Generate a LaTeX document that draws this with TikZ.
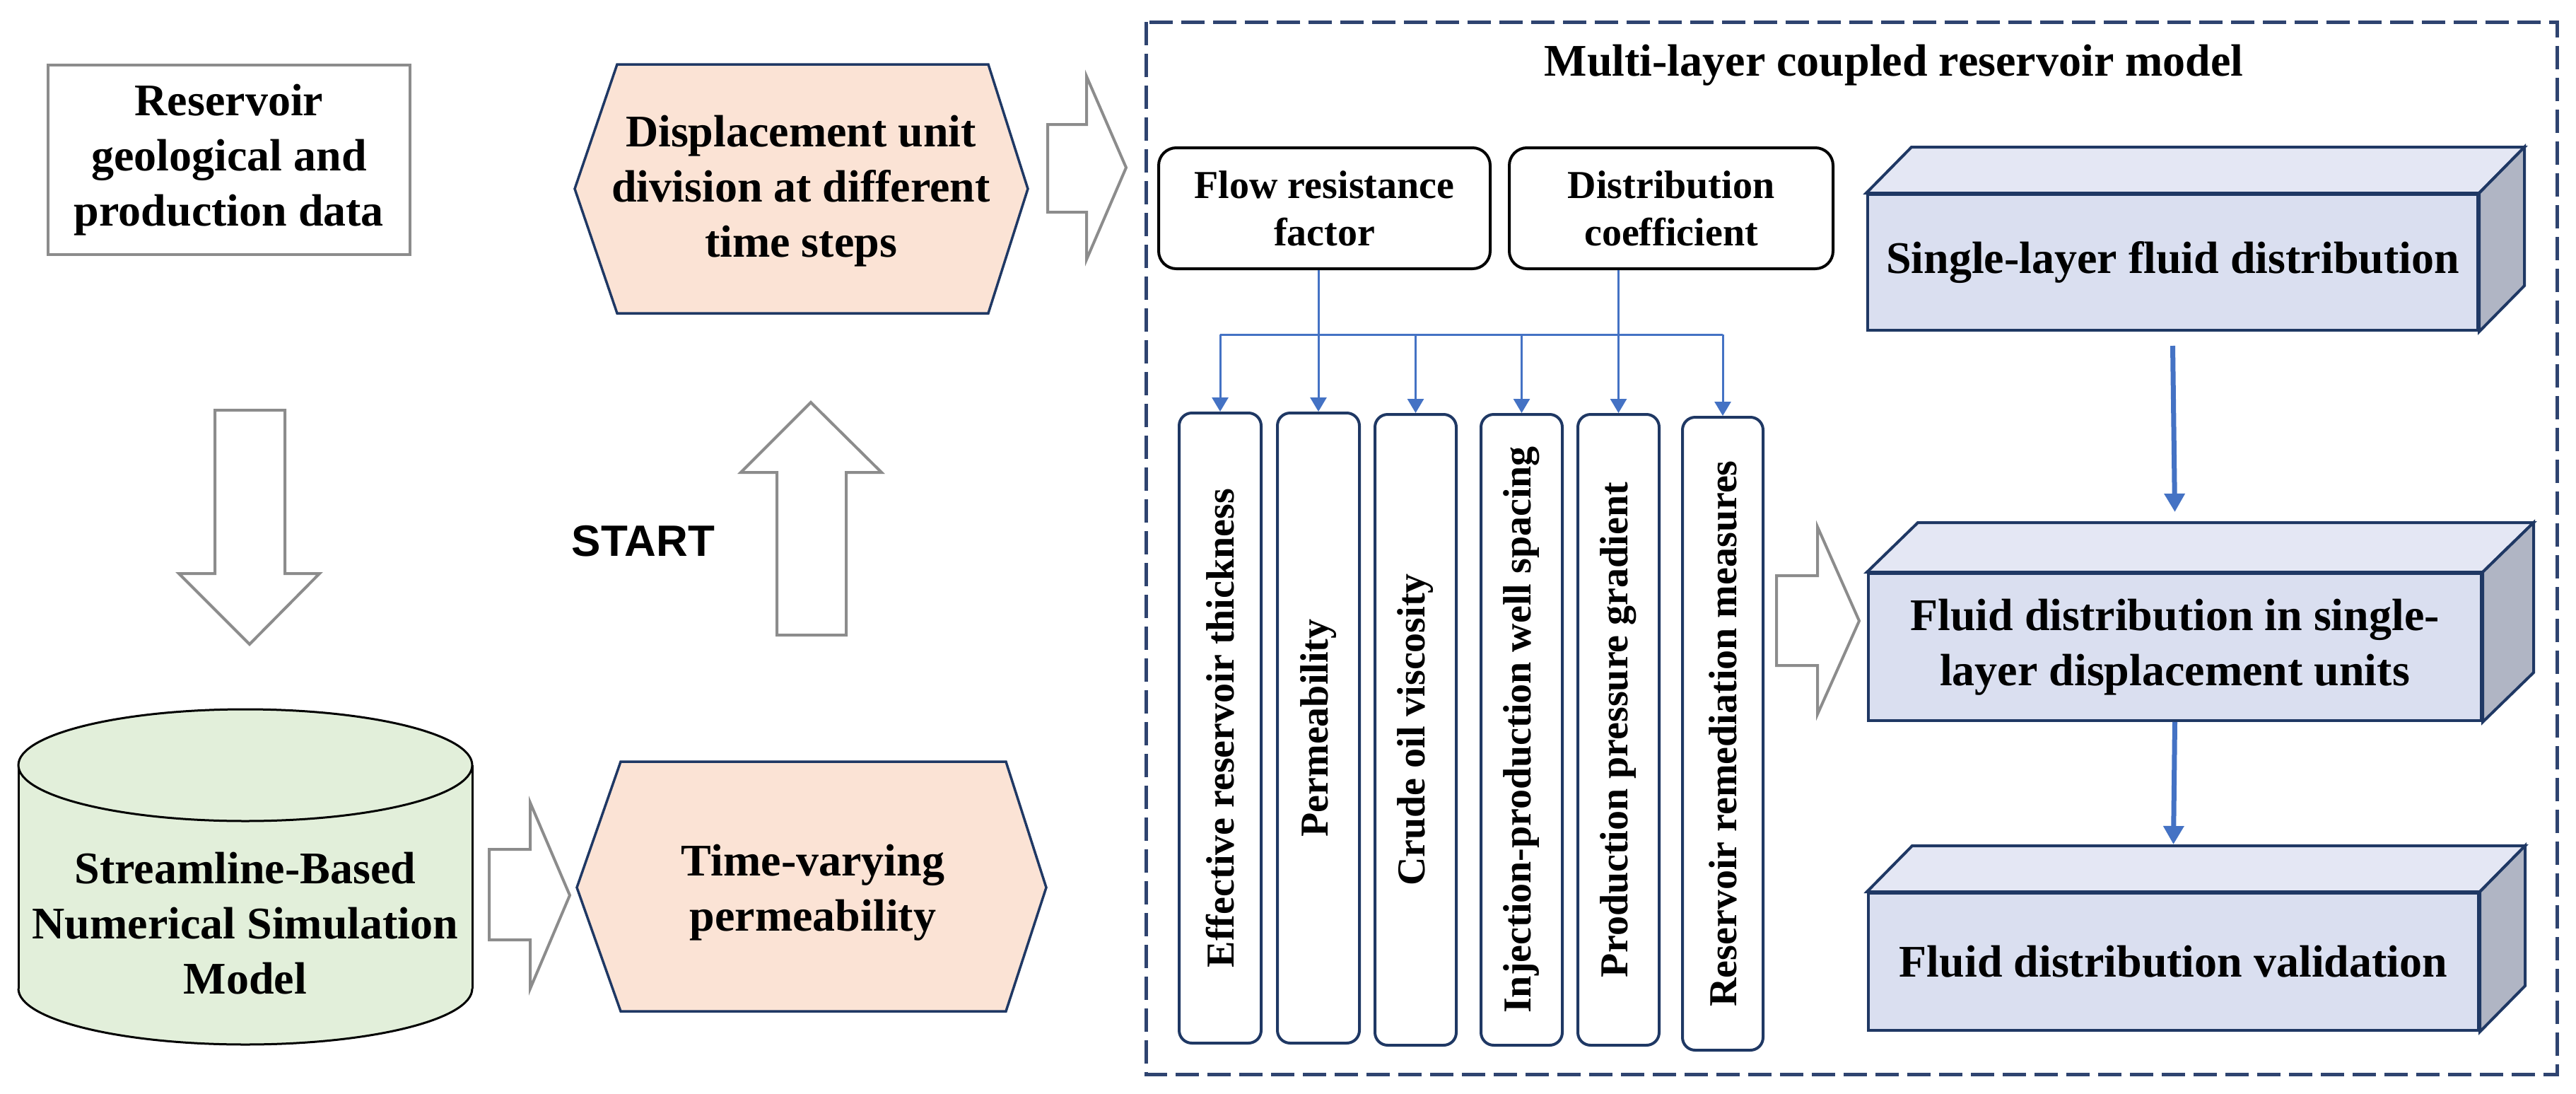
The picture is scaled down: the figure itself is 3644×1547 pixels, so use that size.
\documentclass[tikz,border=0pt]{standalone}
\usepackage{fontspec}
\setmainfont{Liberation Serif}
\newfontfamily\startfont{Liberation Sans}
\usetikzlibrary{arrows.meta,calc}
\definecolor{peach}{HTML}{FBE3D5}
\definecolor{cylgreen}{HTML}{E2EFDA}
\definecolor{navy}{HTML}{1F3864}
\definecolor{dashnavy}{HTML}{2F4470}
\definecolor{frontc}{HTML}{DADFF0}
\definecolor{topc}{HTML}{E4E7F4}
\definecolor{sidec}{HTML}{B0B5C4}
\definecolor{linkblue}{HTML}{4472C4}
\definecolor{arrowgray}{HTML}{8C8C8C}
\tikzset{
  bigtxt/.style={font=\bfseries\fontsize{64}{78}\selectfont, align=center, inner sep=0pt},
  smalltxt/.style={font=\bfseries\fontsize{56}{67}\selectfont, align=center, inner sep=0pt},
  blockarrow/.style={draw=arrowgray, line width=4pt, fill=white, line join=miter},
  hexa/.style={draw=navy, line width=3.5pt, fill=peach, line join=miter},
  rbox/.style={draw=black, line width=4pt, rounded corners=25pt, fill=white, smalltxt},
  vbox/.style={draw=navy, line width=4pt, rounded corners=18pt, fill=white, rotate=90, smalltxt},
  front/.style={draw=navy, line width=4pt, fill=frontc, bigtxt},
  topface/.style={draw=navy, line width=4pt, fill=topc, line join=miter},
  sideface/.style={draw=navy, line width=4pt, fill=sidec, line join=miter},
  thinlink/.style={draw=linkblue, line width=3pt},
  thinarrow/.style={thinlink, -{Triangle[width=23pt,length=20pt]}},
  thickarrow/.style={draw=linkblue, line width=7pt, -{Triangle[width=28pt,length=26pt]}},
}
\begin{document}
\begin{tikzpicture}[x=1pt,y=-1pt]
\useasboundingbox (0,0) rectangle (3644,1547);
\fill[white] (0,0) rectangle (3644,1547);

% Reservoir data box
\node[draw=arrowgray, line width=4pt, minimum width=512pt, minimum height=268pt, bigtxt] (rd) at (324,226) {Reservoir\\geological and\\production data};

% Displacement hexagon
\draw[hexa] (813,267) -- (873,91) -- (1398,91) -- (1454,267) -- (1398,443) -- (873,443) -- cycle;
\node[bigtxt] (du) at (1133,270) {Displacement unit\\division at different\\time steps};

% Time-varying hexagon
\draw[hexa] (816,1255) -- (878,1077) -- (1423,1077) -- (1480,1255) -- (1423,1430) -- (878,1430) -- cycle;
\node[bigtxt] (tv) at (1150,1262) {Time-varying\\permeability};

% Cylinder
\fill[cylgreen] (26,1082) rectangle (668,1398);
\fill[cylgreen] (347,1398) ellipse [x radius=321, y radius=79];
\begin{scope}
  \clip (0,1398) rectangle (700,1500);
  \draw[black, line width=3pt] (347,1398) ellipse [x radius=321, y radius=79];
\end{scope}
\draw[black, line width=3pt] (26,1082) -- (26,1398) (668,1082) -- (668,1398);
\draw[black, line width=3pt, fill=cylgreen] (347,1082) ellipse [x radius=321, y radius=79];
\node[bigtxt] (cyl) at (347,1306) {Streamline-Based\\Numerical Simulation\\Model};

% START
\node[font=\startfont\bfseries\fontsize{62}{70}\selectfont, inner sep=0pt] (start) at (910,765) {START};

% Block arrows
\draw[blockarrow] (304,580) -- (403,580) -- (403,811) -- (452,811) -- (353,911) -- (253,811) -- (304,811) -- cycle;
\draw[blockarrow] (1099,898) -- (1099,668) -- (1048,668) -- (1147,569) -- (1247,668) -- (1197,668) -- (1197,898) -- cycle;
\draw[blockarrow] (1482,176) -- (1537,176) -- (1537,108) -- (1593,237) -- (1537,367) -- (1537,300) -- (1482,300) -- cycle;
\draw[blockarrow] (692,1201) -- (750,1201) -- (750,1135) -- (806,1266) -- (750,1398) -- (750,1329) -- (692,1329) -- cycle;
\draw[blockarrow] (2513,814) -- (2571,814) -- (2571,745) -- (2630,878) -- (2571,1010) -- (2571,941) -- (2513,941) -- cycle;

% Dashed frame
\draw[dashnavy, line width=5pt, dash pattern=on 33pt off 12pt] (1621,31) rectangle (3617,1519);
\node[bigtxt] (title) at (2679,92) {Multi-layer coupled reservoir model};

% Factor boxes
\node[rbox, minimum width=469pt, minimum height=171pt] (fr) at (1873.5,294.5) {Flow resistance\\factor};
\node[rbox, minimum width=458pt, minimum height=171pt] (dc) at (2364,294.5) {Distribution\\coefficient};

% Vertical parameter boxes
\node[vbox, minimum width=891pt, minimum height=116pt] (v1) at (1726,1029.5) {Effective reservoir thickness};
\node[vbox, minimum width=891pt, minimum height=116pt] (v2) at (1865,1029.5) {Permeability};
\node[vbox, minimum width=892pt, minimum height=115pt] (v3) at (2002.5,1032) {Crude oil viscosity};
\node[vbox, minimum width=892pt, minimum height=115pt] (v4) at (2152.5,1032) {Injection-production well spacing};
\node[vbox, minimum width=892pt, minimum height=115pt] (v5) at (2289.5,1032) {Production pressure gradient};
\node[vbox, minimum width=895pt, minimum height=114pt] (v6) at (2437,1037.5) {Reservoir remediation measures};

% Blue links
\coordinate (bus) at (0,473);
\draw[thinlink] (v1.east |- bus) -- (v6.east |- bus);
\draw[thinarrow] (v1.east |- bus) -- (v1.east);
\draw[thinarrow] (v3.east |- bus) -- (v3.east);
\draw[thinarrow] (v4.east |- bus) -- (v4.east);
\draw[thinarrow] (v6.east |- bus) -- (v6.east);
\draw[thinarrow] (v2.east |- fr.south) -- (v2.east);
\draw[thinarrow] (v5.east |- dc.south) -- (v5.east);

% 3D boxes
\node[front, minimum width=863pt, minimum height=192pt] (b1) at (3073.5,371) {Single-layer fluid distribution};
\draw[topface] (b1.north west) -- ++(64,-65) -- ($(b1.north east)+(64,-65)$) -- (b1.north east) -- cycle;
\draw[sideface] (b1.north east) -- ++(64,-65) -- ($(b1.south east)+(64,-65)$) -- (b1.south east) -- cycle;

\node[front, minimum width=867pt, minimum height=208pt] (b2) at (3076.5,915) {Fluid distribution in single-\\layer displacement units};
\draw[topface] (b2.north west) -- ++(72,-70) -- ($(b2.north east)+(72,-70)$) -- (b2.north east) -- cycle;
\draw[sideface] (b2.north east) -- ++(72,-70) -- ($(b2.south east)+(72,-70)$) -- (b2.south east) -- cycle;

\node[front, minimum width=863pt, minimum height=194pt] (b3) at (3074.5,1360) {Fluid distribution validation};
\draw[topface] (b3.north west) -- ++(64,-65) -- ($(b3.north east)+(64,-65)$) -- (b3.north east) -- cycle;
\draw[sideface] (b3.north east) -- ++(64,-65) -- ($(b3.south east)+(64,-65)$) -- (b3.south east) -- cycle;

\draw[thickarrow] ($(b1.south)+(0,20)$) -- ($(b2.north)+(0,-85)$);
\draw[thickarrow] (b2.south) -- ($(b3.north)+(0,-67)$);
\end{tikzpicture}
\end{document}
